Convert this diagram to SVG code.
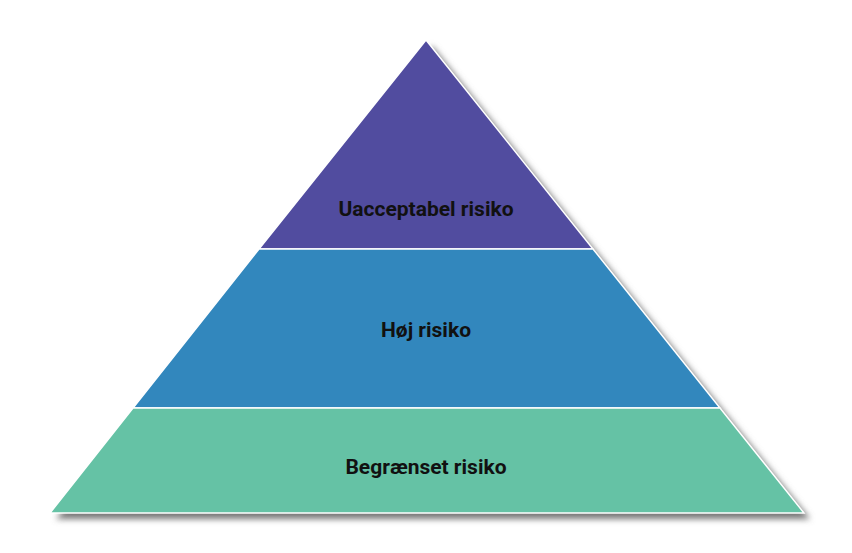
<svg xmlns="http://www.w3.org/2000/svg" width="852" height="553" viewBox="0 0 852 553">
<defs>
<filter id="sh" x="-10%" y="-10%" width="120%" height="120%"><feGaussianBlur stdDeviation="3"/></filter>
<style>
.t{font-family:Roboto,"Liberation Sans",sans-serif;font-weight:bold;font-size:21px;fill:#111;text-anchor:middle}
.l{stroke:#fff;stroke-width:1.5}
</style>
</defs>
<rect width="852" height="553" fill="#fff"/>
<polygon points="432,46 810,519 56,519" fill="#777" filter="url(#sh)"/>
<g id="top"><polygon class="l" points="426,40 593,249 259,249" fill="#514c9f"/><text class="t" x="426" y="216">Uacceptabel risiko</text></g>
<g id="mid"><polygon class="l" points="259,249 593,249 720,408 133,408" fill="#3287bd"/><text class="t" x="426" y="337">Høj risiko</text></g>
<g id="bot"><polygon class="l" points="133,408 720,408 804,513 50,513" fill="#65c2a5"/><text class="t" x="426" y="474">Begrænset risiko</text></g>
<g id="connectors"/>
</svg>
